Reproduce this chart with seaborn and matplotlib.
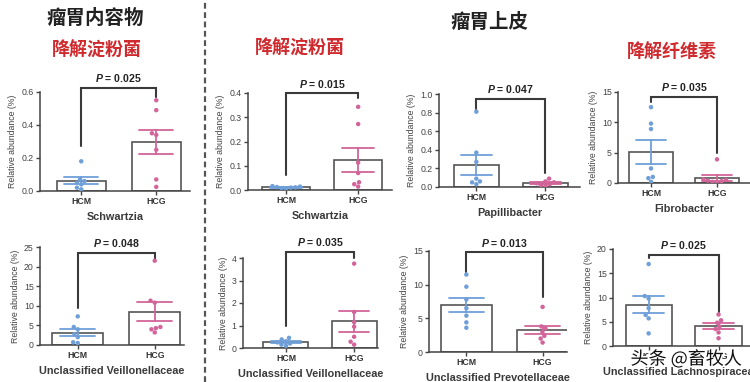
import matplotlib
matplotlib.use("Agg")
import matplotlib.pyplot as plt
import matplotlib.patheffects as pe
from matplotlib.lines import Line2D
import pandas as pd
import seaborn as sns

groups = ["HCM", "HCG"]

# rumen content
schw_content_hcm = [0.18, 0.07, 0.06, 0.05, 0.04, 0.02, 0.01]
schw_content_hcg = [0.55, 0.49, 0.35, 0.34, 0.25, 0.07, 0.025]
veil_content_hcm = [7.3, 4.6, 4.0, 2.8, 2.0, 0.7, 0.5]
veil_content_hcg = [21.5, 11.3, 10.8, 4.6, 4.3, 4.0, 3.2]

# rumen epithelium
schw_epi_hcm = [0.016, 0.014, 0.012, 0.011, 0.010, 0.008, 0.006]
schw_epi_hcg = [0.343, 0.272, 0.113, 0.07, 0.032, 0.024, 0.014]
veil_epi_hcm = [0.45, 0.38, 0.30, 0.25, 0.20, 0.15, 0.10]
veil_epi_hcg = [3.75, 1.6, 1.15, 0.95, 0.5, 0.28, 0.15]
papi_hcm = [0.81, 0.37, 0.27, 0.09, 0.06, 0.05, 0.03]
papi_hcg = [0.09, 0.06, 0.05, 0.04, 0.03, 0.02, 0.01]
prev_hcm = [11.5, 9.7, 7.8, 6.5, 5.4, 4.4, 3.6]
prev_hcg = [6.7, 3.8, 3.5, 3.0, 2.4, 2.0, 1.4]
fibro_hcm = [12.5, 9.8, 8.9, 2.4, 1.0, 0.8, 0.2]
fibro_hcg = [3.9, 0.6, 0.5, 0.4, 0.3, 0.2, 0.1]
lach_hcm = [16.9, 10.3, 9.8, 7.8, 6.4, 5.7, 2.6]
lach_hcg = [6.5, 5.3, 4.8, 4.0, 3.5, 2.8, 1.6]

taxa = ["Schwartzia", "Unclassified Veillonellaceae", "Schwartzia",
        "Unclassified Veillonellaceae", "Papillibacter", "Unclassified Prevotellaceae",
        "Fibrobacter", "Unclassified Lachnospiraceae"]
p_values = ["0.025", "0.048", "0.015", "0.035", "0.047", "0.013", "0.035", "0.025"]
yticks = [[0, 0.2, 0.4, 0.6], [0, 5, 10, 15, 20, 25], [0, 0.1, 0.2, 0.3, 0.4],
          [0, 1, 2, 3, 4], [0, 0.2, 0.4, 0.6, 0.8, 1.0], [0, 5, 10, 15],
          [0, 5, 10, 15], [0, 5, 10, 15, 20]]
ytick_fmt = ["{:.1f}", "{:g}", "{:.1f}", "{:g}", "{:.1f}", "{:g}", "{:g}", "{:g}"]

panels = [(schw_content_hcm, schw_content_hcg), (veil_content_hcm, veil_content_hcg),
          (schw_epi_hcm, schw_epi_hcg), (veil_epi_hcm, veil_epi_hcg),
          (papi_hcm, papi_hcg), (prev_hcm, prev_hcg),
          (fibro_hcm, fibro_hcg), (lach_hcm, lach_hcg)]

# layout: axes box in pixels (left, right, y of top tick, y of zero), xlim,
# bracket (height, left leg end, right leg end)
layout = [
    ((40, 190, 92, 191), (-0.55, 1.45), (0.625, 0.27, 0.57)),
    ((40, 184, 247, 345), (-0.49, 1.38), (23.5, 9.4, 21.5)),
    ((248, 392, 93, 190), (-0.53, 1.47), (0.40, 0.06, 0.38)),
    ((243, 378, 258, 348), (-0.63, 1.35), (4.28, 1.0, 3.98)),
    ((439, 580, 94, 187), (-0.54, 1.5), (0.95, 0.84, 0.15)),
    ((429, 567, 251, 352), (-0.49, 1.32), (14.8, 11.9, 8.2)),
    ((618, 750, 92, 183), (-0.5, 1.5), (14.2, 13.4, 4.9)),
    ((613, 750, 249, 346), (-0.51, 1.45), (18.8, 18.1, 7.1)),
]

W, H = 750, 382
palette = {"HCM": "#6f9fd8", "HCG": "#d2649a"}
dark = "#3a3a3a"

sns.set_style("white")
plt.rcParams["font.family"] = ["Liberation Sans", "DejaVu Sans"]
plt.rcParams["mathtext.fontset"] = "custom"
plt.rcParams["mathtext.it"] = "Liberation Sans:bold:italic"
plt.rcParams["mathtext.rm"] = "Liberation Sans:bold"

fig = plt.figure(figsize=(W / 100, H / 100), dpi=100)
fig.patch.set_facecolor("white")

for i, (vals, (box, xlim, br)) in enumerate(zip(panels, layout)):
    left, right, top, zero = box
    ax = fig.add_axes([left / W, 1 - zero / H, (right - left) / W, (zero - top) / H])
    df = pd.DataFrame({"group": ["HCM"] * len(vals[0]) + ["HCG"] * len(vals[1]),
                       "value": list(vals[0]) + list(vals[1])})
    sns.barplot(data=df, x="group", y="value", order=groups, color="white",
                edgecolor="#555555", linewidth=1.2, width=0.66, errorbar=None, ax=ax)
    sns.swarmplot(data=df, x="group", y="value", order=groups, hue="group",
                  palette=palette, size=3.2, legend=False, ax=ax, zorder=3)
    sns.pointplot(data=df, x="group", y="value", order=groups, hue="group",
                  palette=palette, errorbar="se", capsize=0.45, linestyle="none",
                  markersize=0, err_kws={"linewidth": 1.3}, legend=False, ax=ax)
    ax.set_xlim(*xlim)
    ax.set_ylim(0, yticks[i][-1])
    ax.set_yticks(yticks[i])
    ax.set_yticklabels([ytick_fmt[i].format(t) for t in yticks[i]])
    ax.set_facecolor("none")
    for s in ["top", "right"]:
        ax.spines[s].set_visible(False)
    for s in ["left", "bottom"]:
        ax.spines[s].set_color("#444444")
        ax.spines[s].set_linewidth(1.1)
    ax.tick_params(axis="both", length=3, width=1, color="#444444", labelsize=6.3,
                   pad=1.5, direction="out", bottom=True, left=True)
    for lab in ax.get_xticklabels():
        lab.set_fontweight("bold")
        lab.set_color("#333333")
    for lab in ax.get_yticklabels():
        lab.set_color("#444444")
    ax.set_ylabel("Relative abundance (%)", fontsize=6.3, color="#444444", labelpad=3)
    ax.set_xlabel(taxa[i], fontsize=7.8, fontweight="bold", color="#3a3a3a", labelpad=4)

    h, l_end, r_end = br
    ax.plot([0, 0, 1, 1], [l_end, h, h, r_end], color=dark, lw=1.5, clip_on=False,
            solid_joinstyle="miter")
    ax.annotate("$P$ = " + p_values[i], xy=(0.5, h), xytext=(0, 2.5),
                textcoords="offset points", ha="center", va="bottom",
                fontsize=7.6, fontweight="bold", color="#222222", annotation_clip=False)

# headings
cjk = ["Noto Sans CJK SC", "DejaVu Sans"]
fig.text(95 / W, 1 - 18 / H, "瘤胃内容物", family=cjk, fontsize=14, fontweight="bold",
         color="#222222", ha="center", va="center")
fig.text(97 / W, 1 - 50 / H, "降解淀粉菌", family=cjk, fontsize=13, fontweight="bold",
         color="#cf2a2e", ha="center", va="center")
fig.text(300 / W, 1 - 48 / H, "降解淀粉菌", family=cjk, fontsize=13, fontweight="bold",
         color="#cf2a2e", ha="center", va="center")
fig.text(489 / W, 1 - 22 / H, "瘤胃上皮", family=cjk, fontsize=14, fontweight="bold",
         color="#222222", ha="center", va="center")
fig.text(672 / W, 1 - 52 / H, "降解纤维素", family=cjk, fontsize=13, fontweight="bold",
         color="#cf2a2e", ha="center", va="center")

# dashed separator
fig.add_artist(Line2D([205 / W, 205 / W], [0, 1], transform=fig.transFigure,
                      color="#555555", lw=1.6, linestyle=(0, (2.6, 1.6))))

# watermark
fig.text(686 / W, 1 - 359 / H, "头条 @畜牧人", family=cjk, fontsize=13,
         color="#111111", ha="center", va="center",
         path_effects=[pe.withStroke(linewidth=2.5, foreground="white")])

fig.savefig("out.png", dpi=100)
